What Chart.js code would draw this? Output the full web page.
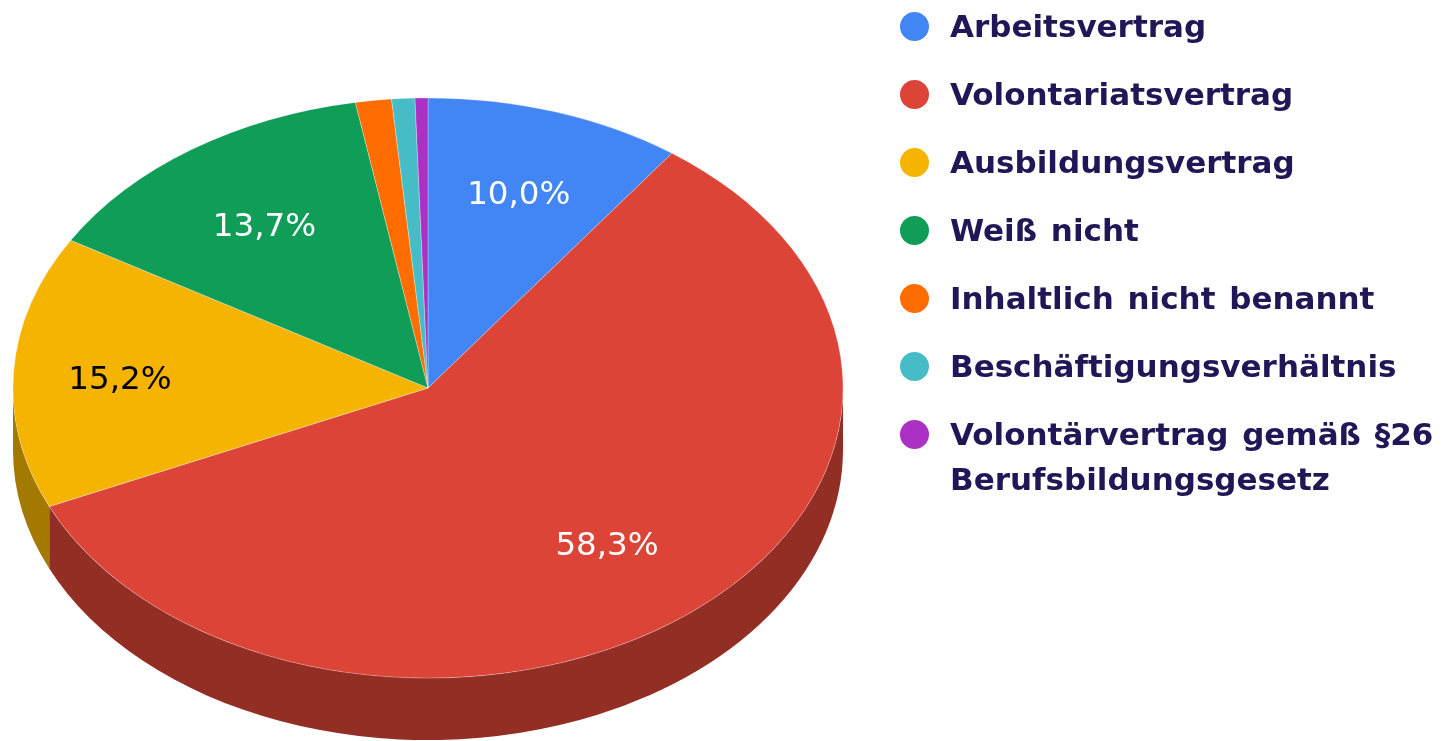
<!DOCTYPE html>
<html lang="de">
<head>
<meta charset="utf-8">
<title>Vertragsart</title>
<script src="https://cdn.jsdelivr.net/npm/chart.js@4"></script>
<style>
  html, body { margin: 0; background: #fff; }
  #wrap { position: relative; width: 1445px; height: 741px; overflow: hidden; filter: blur(0.5px); }
  canvas { position: absolute; left: 0; top: 0; }
  #legend { position: absolute; left: 900px; top: 4px; width: 545px; margin: 0; padding: 0; list-style: none;
    font: bold 31px/45px "DejaVu Sans", sans-serif; color: #211757; word-spacing: 3px; }
  #legend li { position: relative; padding-left: 50px; margin-bottom: 23px; }
  #legend i { position: absolute; left: 0; top: 8px; width: 29px; height: 29px; border-radius: 50%; }
</style>
</head>
<body>
<div id="wrap">
  <canvas id="pie" width="1445" height="741"></canvas>
  <ul id="legend"></ul>
</div>
<script>
// ================= Data =================
const categories = [
  "Arbeitsvertrag",
  "Volontariatsvertrag",
  "Ausbildungsvertrag",
  "Weiß nicht",
  "Inhaltlich nicht benannt",
  "Beschäftigungsverhältnis",
  "Volontärvertrag gemäß §26 Berufsbildungsgesetz"
];
const shares = [10.0, 58.3, 15.2, 13.7, 1.4, 0.9, 0.5];

// ================= Styles =================
const sliceColors = ["#4285f4", "#db4437", "#f4b400", "#0f9d58", "#ff6d00", "#46bdc6", "#ab30c4"];
const labelColors = ["#ffffff", "#ffffff", "#000000", "#ffffff"];
const labelNudge = [[1, 1], [-4, 1], [-18, 4], [2, 6]];   // small shifts off the 0.7 radius spot
const TILT = 0.699;      // vertical squash of the pie
const DEPTH = 62;        // height of the side wall in px
const RADIUS = 415;

function darken(hex, f) {
  const n = parseInt(hex.slice(1), 16);
  const c = [n >> 16, (n >> 8) & 255, n & 255].map(v => Math.round(v * f));
  return `rgb(${c[0]},${c[1]},${c[2]})`;
}

// ================= 3D look =================
const tiltPlugin = {
  id: "tilt",
  beforeDatasetsDraw(chart) {
    const ctx = chart.ctx;
    const arcs = chart.getDatasetMeta(0).data;
    const cx = arcs[0].x, cy = arcs[0].y;

    ctx.save();
    ctx.translate(0, cy);
    ctx.scale(1, TILT);
    ctx.translate(0, -cy);

    // side wall, only the front half of the rim is visible
    arcs.forEach((arc, i) => {
      const a = Math.max(arc.startAngle, 0);
      const b = Math.min(arc.endAngle, Math.PI);
      if (a >= b) return;
      ctx.beginPath();
      ctx.arc(cx, cy, arc.outerRadius, a, b);
      ctx.arc(cx, cy + DEPTH / TILT, arc.outerRadius, b, a, true);
      ctx.closePath();
      ctx.fillStyle = darken(sliceColors[i], 0.67);
      ctx.fill();
    });
  },
  afterDatasetsDraw(chart) {
    const ctx = chart.ctx;
    ctx.restore();

    // percent labels, only for the big slices
    const arcs = chart.getDatasetMeta(0).data;
    ctx.font = '32.5px "DejaVu Sans", sans-serif';
    ctx.textAlign = "center";
    ctx.textBaseline = "middle";
    arcs.forEach((arc, i) => {
      if (shares[i] < 5) return;
      const mid = (arc.startAngle + arc.endAngle) / 2;
      const r = arc.outerRadius * 0.7;
      const text = shares[i].toFixed(1).replace(".", ",") + "%";
      ctx.fillStyle = labelColors[i];
      ctx.fillText(text, arc.x + Math.cos(mid) * r + labelNudge[i][0], arc.y + Math.sin(mid) * r * TILT + labelNudge[i][1]);
    });
  }
};

// ================= Chart =================
new Chart(document.getElementById("pie").getContext("2d"), {
  type: "pie",
  plugins: [tiltPlugin],
  data: {
    labels: categories,
    datasets: [{
      data: shares,
      backgroundColor: sliceColors,
      borderColor: "rgba(255,255,255,0.35)",
      borderWidth: 1,
      clip: false
    }]
  },
  options: {
    responsive: false,
    animation: false,
    radius: RADIUS,
    layout: { padding: { top: 35, right: 589 } },
    plugins: {
      legend: { display: false },
      tooltip: { enabled: false }
    }
  }
});

// ================= Legend =================
const legendEl = document.getElementById("legend");
categories.forEach((name, i) => {
  legendEl.innerHTML += `<li><i style="background:${sliceColors[i]}"></i>${name}</li>`;
});
</script>
</body>
</html>
